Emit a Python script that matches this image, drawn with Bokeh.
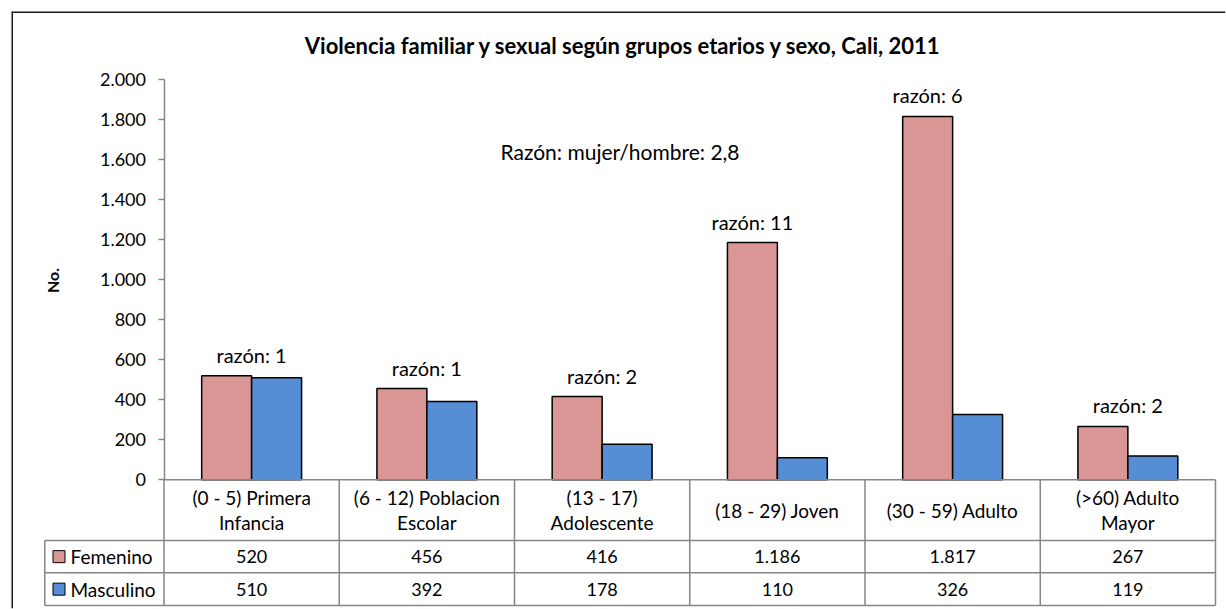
import math
from bokeh.plotting import figure
from bokeh.models import LinearAxis, FixedTicker, Span
from bokeh.core.properties import value
from bokeh.embed import file_html
from bokeh.resources import INLINE

# ---------------- data ----------------
categories = ["(0 - 5) Primera\nInfancia", "(6 - 12) Poblacion\nEscolar", "(13 - 17)\nAdolescente",
              "(18 - 29) Joven", "(30 - 59) Adulto", "(>60) Adulto\nMayor"]
femenino = [520, 456, 416, 1186, 1817, 267]
masculino = [510, 392, 178, 110, 326, 119]
series_names = ["Femenino", "Masculino"]
ratio_labels = ["razón: 1", "razón: 1", "razón: 2", "razón: 11", "razón: 6", "razón: 2"]
ratio_anchor = ["group", "group", "group", "fem", "fem", "group"]
y_ticks = [0, 200, 400, 600, 800, 1000, 1200, 1400, 1600, 1800, 2000]
y_tick_labels = ["0", "200", "400", "600", "800", "1.000", "1.200", "1.400", "1.600", "1.800", "2.000"]
title_text = "Violencia familiar y sexual según grupos etarios y sexo, Cali, 2011"
note_text = "Razón: mujer/hombre: 2,8"
y_label = "No."

FONT = "Lato"
FEM_COLOR = "#D99694"
MAS_COLOR = "#558ED5"
GRID = "#868686"

def fmt(v):
    return f"{v:,}".replace(",", ".")

n = len(categories)
BAR_W = 0.285

# pixel geometry helpers (frame spans whole chart)
X0_PX, CAT_PX = 163.5, 175.25
Y0_PX, Y_PER_PX = 479.3, 5.0
def dx(px):
    return (px - X0_PX) / CAT_PX
def dy(py):
    return (Y0_PX - py) * Y_PER_PX

p = figure(width=1226, height=609, output_backend="svg", toolbar_location=None,
           x_range=(dx(11), dx(1225)), y_range=(dy(608), dy(11)),
           x_axis_location=None, y_axis_location=None,
           min_border_left=11, min_border_right=1, min_border_top=11, min_border_bottom=1)
p.xgrid.visible = False
p.ygrid.visible = False
p.outline_line_color = None
p.background_fill_color = "white"
p.border_fill_color = "white"

# outer border (top and left visible)
p.add_layout(Span(location=dy(11.5), dimension="width", line_color="#1a1a1a", line_width=2))
p.add_layout(Span(location=dx(11.5), dimension="height", line_color="#1a1a1a", line_width=2))

# y axis
yaxis = LinearAxis(fixed_location=0, bounds=(0, 2000), ticker=FixedTicker(ticks=y_ticks),
                   major_label_overrides={t: l for t, l in zip(y_ticks, y_tick_labels)},
                   axis_line_color=GRID, axis_line_width=1.5,
                   major_tick_line_color=GRID, major_tick_line_width=1.5,
                   major_tick_in=0, major_tick_out=6, minor_tick_line_color=None,
                   major_label_text_font=FONT, major_label_text_font_size="18px",
                   major_label_text_color="black", major_label_standoff=12)
p.add_layout(yaxis, "left")

# bars
xc = [i + 0.5 for i in range(n)]
p.vbar(x=[x - BAR_W / 2 for x in xc], top=femenino, bottom=0, width=BAR_W,
       fill_color=FEM_COLOR, line_color="black", line_width=1.5)
p.vbar(x=[x + BAR_W / 2 for x in xc], top=masculino, bottom=0, width=BAR_W,
       fill_color=MAS_COLOR, line_color="black", line_width=1.5)

# ratio labels
rx = [x - BAR_W / 2 if a == "fem" else x for x, a in zip(xc, ratio_anchor)]
ry = [max(f, m) + 105 for f, m in zip(femenino, masculino)]
p.text(x=rx, y=ry, text=ratio_labels, text_align="center", text_baseline="middle",
       text_font=value(FONT), text_font_size="20px", text_color="black")

# overall note
p.text(x=[dx(619.5)], y=[dy(151)], text=[note_text], text_align="center", text_baseline="middle",
       text_font=value(FONT), text_font_size="21px", text_color="black")

# title
p.text(x=[dx(623)], y=[dy(45)], text=[title_text], text_align="center", text_baseline="middle",
       text_font=value(FONT), text_font_size="22px", text_font_style="bold", text_color="black")

# y label
p.text(x=[dx(52)], y=[dy(280)], text=[y_label], angle=math.pi / 2, text_align="center",
       text_baseline="middle", text_font=value(FONT), text_font_size="16px",
       text_font_style="bold", text_color="black")

# ---------------- data table ----------------
row_tops = [dy(479.3), dy(540), dy(572.3), dy(605)]
left_x = dx(44.3)
hx0 = [0, left_x, left_x, left_x]
hx1 = [n, n, n, n]
p.segment(x0=hx0, y0=row_tops, x1=hx1, y1=row_tops, line_color=GRID, line_width=1.5)
vx = list(range(n + 1))
p.segment(x0=vx, y0=[row_tops[0]] * len(vx), x1=vx, y1=[row_tops[3]] * len(vx),
          line_color=GRID, line_width=1.5)
p.segment(x0=[left_x], y0=[row_tops[1]], x1=[left_x], y1=[row_tops[3]],
          line_color=GRID, line_width=1.5)

# header labels
p.text(x=xc, y=[(row_tops[0] + row_tops[1]) / 2] * n, text=categories, text_align="center",
       text_baseline="middle", text_font=value(FONT), text_font_size="19px",
       text_line_height=1.1, text_color="black")

# values
r1 = (row_tops[1] + row_tops[2]) / 2
r2 = (row_tops[2] + row_tops[3]) / 2
p.text(x=xc, y=[r1] * n, text=[fmt(v) for v in femenino], text_align="center",
       text_baseline="middle", text_font=value(FONT), text_font_size="18px", text_color="black")
p.text(x=xc, y=[r2] * n, text=[fmt(v) for v in masculino], text_align="center",
       text_baseline="middle", text_font=value(FONT), text_font_size="18px", text_color="black")

# series names with legend keys
p.rect(x=[dx(58.5)] * 2, y=[r1, r2], width=12, height=12, width_units="screen",
       height_units="screen", fill_color=[FEM_COLOR, MAS_COLOR], line_color="black", line_width=1)
p.text(x=[dx(70)] * 2, y=[r1, r2], text=series_names, text_align="left", text_baseline="middle",
       text_font=value(FONT), text_font_size="19px", text_color="black")

open("out.html", "w").write(file_html(p, INLINE))
